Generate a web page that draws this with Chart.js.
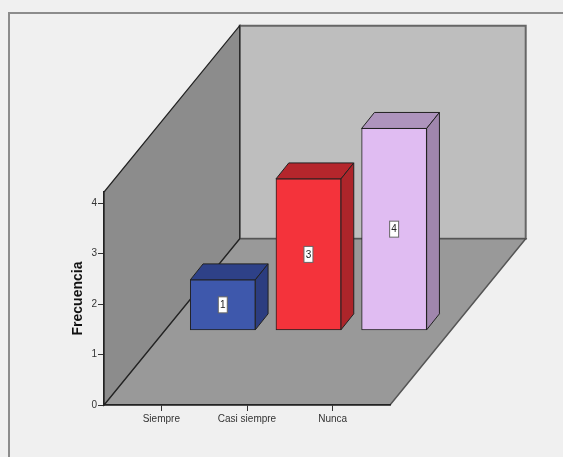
<!DOCTYPE html>
<html>
<head>
<meta charset="utf-8">
<script src="https://cdn.jsdelivr.net/npm/chart.js@4"></script>
<style>
    html, body { margin: 0; padding: 0; background: #f0f0f0; }
    canvas { display: block; }
</style>
</head>
<body>
<canvas id="bar-chart" width="563" height="457"></canvas>
<script>
const categories = ['Siempre', 'Casi siempre', 'Nunca'];
const positions = [0, 1, 2];
const frecuencia = [1, 3, 4];
const yTicks = [0, 1, 2, 3, 4];
const frontColors = ['#3e58ac', '#f4333b', '#e0bcf2'];
const topColors = ['#2e4188', '#b5262c', '#ae94bd'];
const sideColors = ['#2c3d80', '#ad252a', '#a086ad'];

// Oblique projection of the box
const floorDepth = { x: 135.7, y: -166.3 };
const barDepth = { x: 12.8, y: -16 };
const barShift = {
    x: (floorDepth.x - barDepth.x) / 2,
    y: (floorDepth.y - barDepth.y) / 2 + 0.5
};

function poly(ctx, pts, fill, stroke, width) {
    ctx.beginPath();
    pts.forEach((p, i) => i ? ctx.lineTo(p[0], p[1]) : ctx.moveTo(p[0], p[1]));
    ctx.closePath();
    ctx.fillStyle = fill;
    ctx.fill();
    ctx.strokeStyle = stroke;
    ctx.lineWidth = width;
    ctx.stroke();
}

// Panel, walls and floor
const boxPlugin = {
    id: 'box',
    beforeDraw(chart) {
        const { ctx, chartArea: a } = chart;
        const dx = floorDepth.x, dy = floorDepth.y;
        ctx.save();

        ctx.fillStyle = '#f0f0f0';
        ctx.fillRect(0, 0, chart.width, chart.height);
        ctx.strokeStyle = '#8c8c8c';
        ctx.lineWidth = 2;
        ctx.beginPath();
        ctx.moveTo(9, chart.height);
        ctx.lineTo(9, 13);
        ctx.lineTo(chart.width, 13);
        ctx.stroke();

        poly(ctx, [[a.left + dx, a.top + dy], [a.right + dx, a.top + dy],
            [a.right + dx, a.bottom + dy], [a.left + dx, a.bottom + dy]], '#bebebe', '#666666', 2);
        poly(ctx, [[a.left, a.bottom], [a.right, a.bottom],
            [a.right + dx, a.bottom + dy], [a.left + dx, a.bottom + dy]], '#999999', '#555555', 1.5);
        poly(ctx, [[a.left, a.bottom], [a.left, a.top],
            [a.left + dx, a.top + dy], [a.left + dx, a.bottom + dy]], '#8c8c8c', '#222222', 1.2);

        ctx.restore();
    },
    beforeDatasetDraw(chart, args) {
        const { ctx } = chart;
        ctx.save();
        ctx.translate(barShift.x, barShift.y);

        chart.getDatasetMeta(args.index).data.forEach((bar, i) => {
            const { x, y, base, width } = bar.getProps(['x', 'y', 'base', 'width']);
            const l = x - width / 2, r = x + width / 2;
            const dx = barDepth.x, dy = barDepth.y;
            poly(ctx, [[l, y], [r, y], [r + dx, y + dy], [l + dx, y + dy]], topColors[i], '#222222', 1);
            poly(ctx, [[r, y], [r, base], [r + dx, base + dy], [r + dx, y + dy]], sideColors[i], '#222222', 1);
        });
    },
    afterDatasetDraw(chart, args) {
        const { ctx } = chart;

        // Value boxes on the front faces
        chart.getDatasetMeta(args.index).data.forEach((bar, i) => {
            const { x, y, base } = bar.getProps(['x', 'y', 'base']);
            const cy = (y + base) / 2;
            ctx.fillStyle = '#ffffff';
            ctx.strokeStyle = '#666666';
            ctx.lineWidth = 1;
            ctx.fillRect(x - 4.5, cy - 8, 9, 16);
            ctx.strokeRect(x - 4.5, cy - 8, 9, 16);
            ctx.fillStyle = '#222222';
            ctx.font = '10px "Liberation Sans"';
            ctx.textAlign = 'center';
            ctx.textBaseline = 'middle';
            ctx.fillText(String(frecuencia[i]), x, cy + 0.5);
        });
        ctx.restore();
    }
};

new Chart(document.getElementById('bar-chart'), {
    type: 'bar',
    data: {
        datasets: [{
            data: positions.map((p, i) => ({ x: p, y: frecuencia[i] })),
            backgroundColor: frontColors,
            borderColor: '#222222',
            borderWidth: 1,
            borderSkipped: false,
            barThickness: 65,
            clip: false
        }]
    },
    options: {
        responsive: false,
        animation: false,
        devicePixelRatio: 1,
        layout: { padding: { top: 192, right: 173, left: 0, bottom: 0 } },
        plugins: {
            legend: { display: false },
            tooltip: { enabled: false }
        },
        scales: {
            x: {
                type: 'linear',
                offset: false,
                min: -0.669,
                max: 2.669,
                afterFit: scale => { scale.height = 52; },
                afterBuildTicks: scale => { scale.ticks = positions.map(p => ({ value: p })); },
                grid: { offset: false, drawOnChartArea: false, tickLength: 6, color: '#333333' },
                border: { color: '#222222', width: 1.5 },
                ticks: {
                    autoSkip: false,
                    maxRotation: 0,
                    padding: 2,
                    color: '#333333',
                    font: { family: '"Liberation Sans"', size: 10 },
                    callback: value => categories[value]
                }
            },
            y: {
                min: 0,
                max: 4.22,
                afterFit: scale => { scale.width = 104; },
                afterBuildTicks: scale => { scale.ticks = yTicks.map(v => ({ value: v })); },
                grid: { drawOnChartArea: false, tickLength: 6, color: '#333333' },
                border: { color: '#222222', width: 1.2 },
                ticks: {
                    padding: 1,
                    color: '#333333',
                    font: { family: '"Liberation Sans"', size: 10 }
                },
                title: {
                    display: true,
                    text: 'Frecuencia',
                    color: '#111111',
                    font: { family: '"Liberation Sans"', size: 14, weight: 'bold' },
                    padding: { top: 70, bottom: 0 }
                }
            }
        }
    },
    plugins: [boxPlugin]
});
</script>
</body>
</html>
